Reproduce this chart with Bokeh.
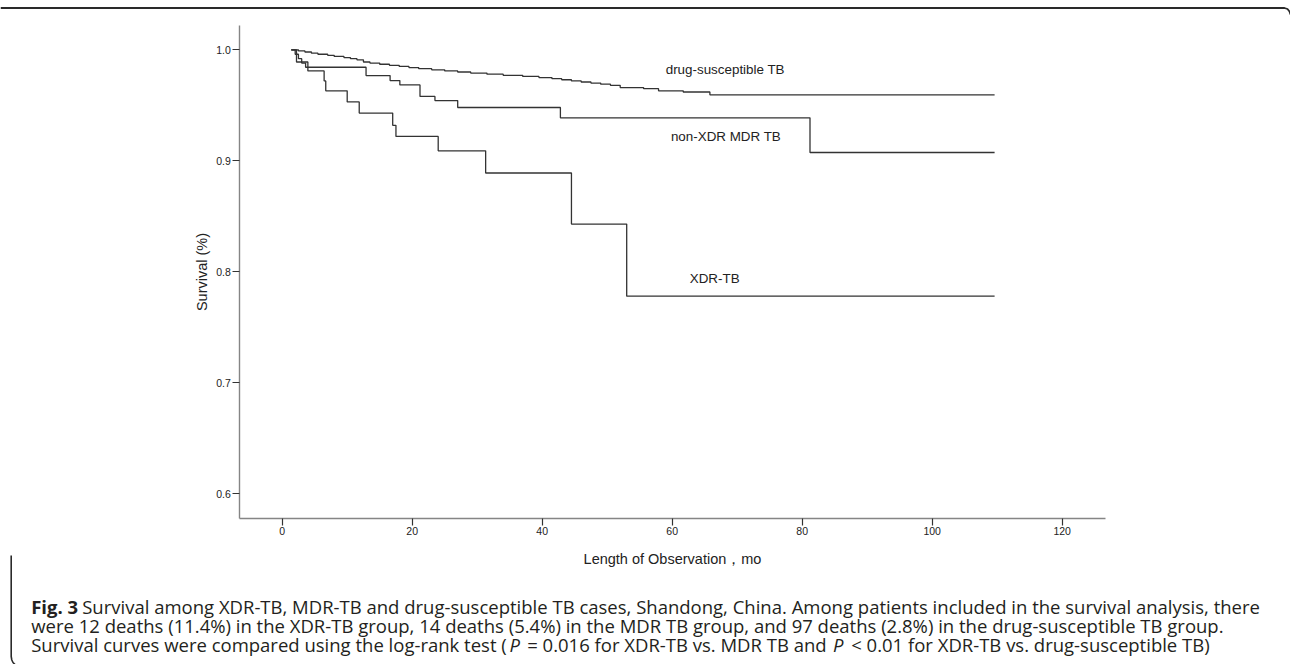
from bokeh.plotting import figure
from bokeh.models import Label, FixedTicker, Range1d, PrintfTickFormatter
from bokeh.embed import file_html
from bokeh.resources import INLINE

# ---------------- data ----------------
x_ticks = [0, 20, 40, 60, 80, 100, 120]
y_ticks = [0.6, 0.7, 0.8, 0.9, 1.0]
end_time = 109.6

xdr_t = [1.4, 2.2, 3.95, 6.45, 6.7, 10.0, 11.85, 17.0, 17.5, 24.0, 31.3, 44.5, 53.0]
xdr_s = [1.0, 0.989, 0.981, 0.972, 0.963, 0.953, 0.943, 0.932, 0.922, 0.909, 0.889, 0.843, 0.778]

mdr_t = [1.4, 2.0, 2.5, 3.0, 3.6, 12.9, 16.6, 18.1, 21.2, 23.5, 27.0, 42.8, 81.2]
mdr_s = [1.0, 0.996, 0.992, 0.988, 0.9843, 0.9768, 0.9723, 0.9684, 0.958, 0.9543, 0.948, 0.9387, 0.9075]

ds_t = [1.4, 2.5, 3.5, 4.5, 5.5, 7.0, 8.0, 9.5, 10.5, 11.5, 12.5, 13.5, 15.0, 16.5, 18.0,
        19.5, 21.0, 23.0, 25.0, 27.0, 29.0, 31.5, 34.0, 37.0, 39.5, 41.5, 43.0, 44.5, 46.0,
        47.5, 49.0, 50.5, 52.0, 55.6, 57.9, 61.7, 65.8]
ds_s = [1.0, 0.999, 0.998, 0.997, 0.996, 0.995, 0.994, 0.993, 0.992, 0.991, 0.989, 0.988,
        0.987, 0.986, 0.985, 0.984, 0.983, 0.982, 0.981, 0.980, 0.979, 0.978, 0.977, 0.976,
        0.975, 0.974, 0.973, 0.972, 0.971, 0.970, 0.969, 0.968, 0.966, 0.965, 0.963, 0.962,
        0.9594]

series_names = ["drug-susceptible TB", "non-XDR MDR TB", "XDR-TB"]

caption_bold = "Fig. 3"
caption_l1 = ("Survival among XDR-TB, MDR-TB and drug-susceptible TB cases, Shandong, China. "
              "Among patients included in the survival analysis, there")
caption_l2 = ("were 12 deaths (11.4%) in the XDR-TB group, 14 deaths (5.4%) in the MDR TB group, "
              "and 97 deaths (2.8%) in the drug-susceptible TB group.")
caption_l3a = "Survival curves were compared using the log-rank test ("
caption_l3b = "= 0.016 for XDR-TB vs. MDR TB and"
caption_l3c = "< 0.01 for XDR-TB vs. drug-susceptible TB)"

# ---------------- geometry: page pixels <-> data ----------------
W, H = 1290, 664
PX0, PXS = 281.7, 6.5      # page x of month 0, pixels per month
PY1, PYS = 49.3, 1110.0    # page y of survival 1.0, pixels per unit

def dx(px):
    return (px - PX0) / PXS

def dy(py):
    return 1.0 - (py - PY1) / PYS

AXIS_LEFT_PX, AXIS_BOTTOM_PX = 239.3, 517.7
AXIS_TOP_PX, AXIS_RIGHT_PX = 25.0, 1105.3

p = figure(width=W, height=H, output_backend="svg", toolbar_location=None,
           x_range=Range1d(dx(0), dx(W)), y_range=Range1d(dy(H), dy(0)),
           min_border_left=0, min_border_right=0, min_border_top=0, min_border_bottom=0)
p.background_fill_color = "white"
p.border_fill_color = "white"
p.outline_line_color = None
p.grid.visible = False

for ax in (p.xaxis, p.yaxis):
    ax.axis_line_color = "#858585"
    ax.axis_line_width = 1.4
    ax.major_tick_line_color = "#333333"
    ax.major_tick_line_width = 1.2
    ax.major_tick_out = 7
    ax.major_tick_in = 0
    ax.minor_tick_line_color = None
    ax.major_label_text_font = "Liberation Sans"
    ax.major_label_text_font_size = "10.5px"
    ax.major_label_text_color = "#222222"
    ax.major_label_standoff = 2
    ax.axis_label_text_font = "Liberation Sans"
    ax.axis_label_text_font_size = "14.5px"
    ax.axis_label_text_font_style = "normal"
    ax.axis_label_text_color = "#222222"

p.xaxis.ticker = FixedTicker(ticks=x_ticks)
p.yaxis.ticker = FixedTicker(ticks=y_ticks)
p.yaxis.formatter = PrintfTickFormatter(format="%.1f")
p.xaxis.axis_label = "Length of Observation\uff0cmo"
p.yaxis.axis_label = "Survival (%)"
p.xaxis.axis_label_standoff = 12
p.yaxis.axis_label_standoff = 3
p.xaxis.fixed_location = dy(AXIS_BOTTOM_PX)
p.yaxis.fixed_location = dx(AXIS_LEFT_PX)
p.xaxis.bounds = (dx(AXIS_LEFT_PX), dx(AXIS_RIGHT_PX))
p.yaxis.bounds = (dy(AXIS_BOTTOM_PX), dy(AXIS_TOP_PX))

curve_color = "#333333"
for t, s in ((ds_t, ds_s), (mdr_t, mdr_s), (xdr_t, xdr_s)):
    xs = list(t) + [end_time]
    ys = list(s) + [s[-1]]
    p.step(xs, ys, mode="after", line_color=curve_color, line_width=1.3)

label_pos = [(59.0, 0.982), (59.8, 0.9219), (62.7, 0.7942)]
for name, (lx, ly) in zip(series_names, label_pos):
    p.add_layout(Label(x=lx, y=ly, text=name, text_font="Liberation Sans",
                       text_font_size="13.4px", text_color="#222222",
                       text_baseline="middle", text_align="left"))

# ---------------- caption ----------------
cap_font = "Open Sans"
cap_size = "18.5px"
cap_color = "#231f20"

def cap(text, px, py, style="normal"):
    p.add_layout(Label(x=dx(px), y=dy(py), text=text,
                       text_font=cap_font, text_font_size=cap_size, text_color=cap_color,
                       text_font_style=style, text_baseline="alphabetic", text_align="left"))

cap(caption_bold, 30.7, 605.7, "bold")
cap(caption_l1, 81.7, 605.7)
cap(caption_l2, 30.7, 625.0)
cap(caption_l3a, 30.7, 644.0)
cap("P", 509.0, 644.0, "italic")
cap(caption_l3b, 526.7, 644.0)
cap("P", 832.5, 644.0, "italic")
cap(caption_l3c, 850.7, 644.0)

# ---------------- figure box edges (page pixels) ----------------
BOX_COLOR = "#2a2a2a"
top_px = [0, 1284, 1287, 1289, 1290]
top_py = [7.5, 7.5, 8.5, 11, 14]
p.line([dx(v) for v in top_px], [dy(v) for v in top_py], line_color=BOX_COLOR, line_width=1.8)
left_px = [10.7, 10.7, 11.3, 12.5, 14.5]
left_py = [555, 656, 659.5, 662, 664]
p.line([dx(v) for v in left_px], [dy(v) for v in left_py], line_color=BOX_COLOR, line_width=1.6)

open("out.html", "w").write(file_html(p, INLINE))
